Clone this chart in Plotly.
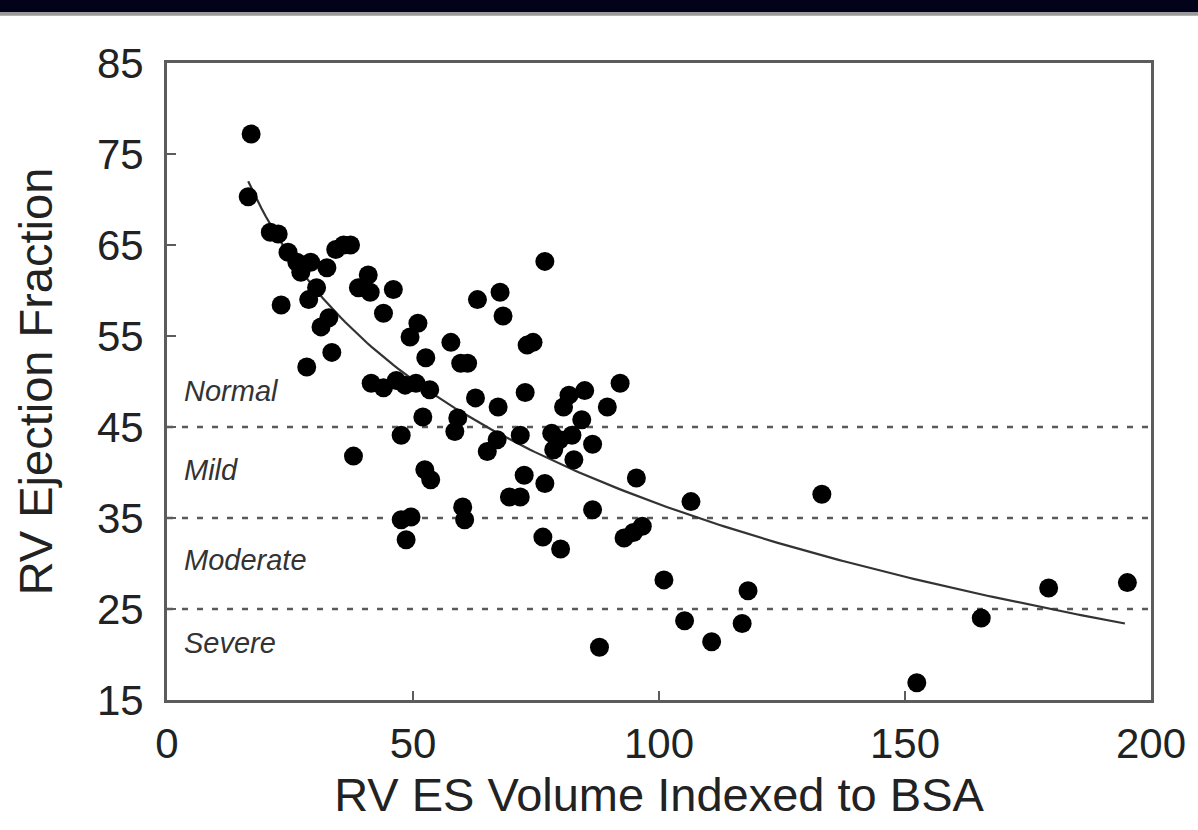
import numpy as np
import plotly.graph_objects as go

# --- data ---
rv_es_volume = [
    17.1, 16.5, 21.0, 22.6, 23.2, 24.6, 26.4, 27.2, 29.2, 32.5,
    34.3, 35.9, 37.3, 30.4, 28.8, 32.9, 31.3, 33.5, 28.4, 37.9,
    38.9, 40.9, 41.3, 46.0, 44.0, 51.0, 49.4, 52.6, 57.7, 59.7,
    61.1, 44.0, 41.5, 46.6, 48.4, 50.6, 53.4, 62.7, 67.3, 63.1,
    67.7, 68.3, 76.8, 73.2, 74.4, 72.8, 81.7, 84.9, 80.6, 92.1,
    89.5, 84.3, 52.0, 59.1, 58.5, 47.6, 67.1, 65.1, 71.8, 78.2,
    79.8, 82.3, 78.6, 86.5, 82.7, 52.4, 53.6, 72.6, 76.8, 95.4,
    69.6, 71.8, 60.1, 60.5, 47.6, 49.6, 48.6, 106.5, 86.5, 76.4,
    80.0, 92.9, 94.8, 96.6, 133.1, 101.0, 87.9, 105.2, 110.7, 118.1,
    116.9, 152.4, 165.5, 179.2, 195.2,
]
rv_ejection_fraction = [
    77.2, 70.3, 66.4, 66.2, 58.4, 64.2, 63.1, 62.0, 63.1, 62.5,
    64.5, 65.0, 65.0, 60.3, 59.0, 57.0, 56.0, 53.2, 51.6, 41.8,
    60.3, 61.7, 59.8, 60.1, 57.5, 56.4, 54.9, 52.6, 54.3, 52.0,
    52.0, 49.3, 49.8, 50.1, 49.6, 49.8, 49.1, 48.2, 47.2, 59.0,
    59.8, 57.2, 63.2, 54.0, 54.3, 48.8, 48.5, 49.0, 47.2, 49.8,
    47.2, 45.8, 46.1, 46.0, 44.5, 44.1, 43.6, 42.3, 44.1, 44.3,
    43.6, 44.1, 42.5, 43.1, 41.4, 40.3, 39.2, 39.7, 38.8, 39.4,
    37.3, 37.3, 36.2, 34.8, 34.8, 35.1, 32.6, 36.8, 35.9, 32.9,
    31.6, 32.8, 33.4, 34.1, 37.6, 28.2, 20.8, 23.7, 21.4, 27.0,
    23.4, 16.9, 24.0, 27.3, 27.9,
]

# logarithmic trend line: EF = a + b*ln(volume)
fit_intercept = 127.2
fit_slope = -19.69
fit_x_range = [16.5, 194.7]

category_cutoffs = [45, 35, 25]
category_labels = ["Normal", "Mild", "Moderate", "Severe"]
category_label_y = [49.0, 40.3, 30.4, 21.3]

x_ticks = [0, 50, 100, 150, 200]
y_ticks = [15, 25, 35, 45, 55, 65, 75, 85]

FONT = "Liberation Sans, Arial, Helvetica, sans-serif"

fig = go.Figure()

# dashed category cut-off lines
for c in category_cutoffs:
    fig.add_trace(go.Scatter(
        x=[0, 200], y=[c, c], mode="lines",
        line=dict(color="#5a5a5a", width=2.6, dash="6px,9px"),
        hoverinfo="skip", showlegend=False,
    ))

# trend curve
xs = np.linspace(fit_x_range[0], fit_x_range[1], 200)
ys = fit_intercept + fit_slope * np.log(xs)
fig.add_trace(go.Scatter(
    x=xs, y=ys, mode="lines",
    line=dict(color="#333333", width=2.2),
    hoverinfo="skip", showlegend=False,
))

# scatter points
fig.add_trace(go.Scatter(
    x=rv_es_volume, y=rv_ejection_fraction, mode="markers",
    marker=dict(color="black", size=19, line=dict(width=0)),
    showlegend=False,
))

for lab, yy in zip(category_labels, category_label_y):
    fig.add_annotation(
        x=3.0, y=yy, text=f"<i>{lab}</i>", showarrow=False,
        xanchor="left", yanchor="middle",
        font=dict(family=FONT, size=29, color="#333333"),
    )

# dark banner at top of the image
fig.add_shape(type="rect", xref="paper", yref="paper",
              x0=-0.2, x1=1.1, y0=1.080, y1=1.12,
              fillcolor="#02021a", line=dict(width=0), layer="above")
fig.add_shape(type="rect", xref="paper", yref="paper",
              x0=-0.2, x1=1.1, y0=1.074, y1=1.080,
              fillcolor="#9a9a9a", line=dict(width=0), layer="above")

axis_common = dict(
    showgrid=False, zeroline=False,
    showline=True, linecolor="#5c5c5c", linewidth=3, mirror=True,
    ticks="inside", ticklen=9, tickwidth=2, tickcolor="#5c5c5c",
    tickfont=dict(family=FONT, size=42, color="#222222"),
)

fig.update_layout(
    width=1198, height=830,
    margin=dict(l=167, r=39, t=63, b=130),
    paper_bgcolor="white", plot_bgcolor="white",
    xaxis=dict(
        range=[0, 200], tickvals=x_ticks, ticklabelstandoff=5,
        title=dict(text="RV ES Volume Indexed to BSA",
                   font=dict(family=FONT, size=47, color="#222222"), standoff=12),
        **axis_common,
    ),
    yaxis=dict(
        range=[15, 85], tickvals=y_ticks, ticklabelstandoff=12,
        title=dict(text="RV Ejection Fraction",
                   font=dict(family=FONT, size=47, color="#222222"), standoff=30),
        **axis_common,
    ),
)

fig.write_html("out.html")
